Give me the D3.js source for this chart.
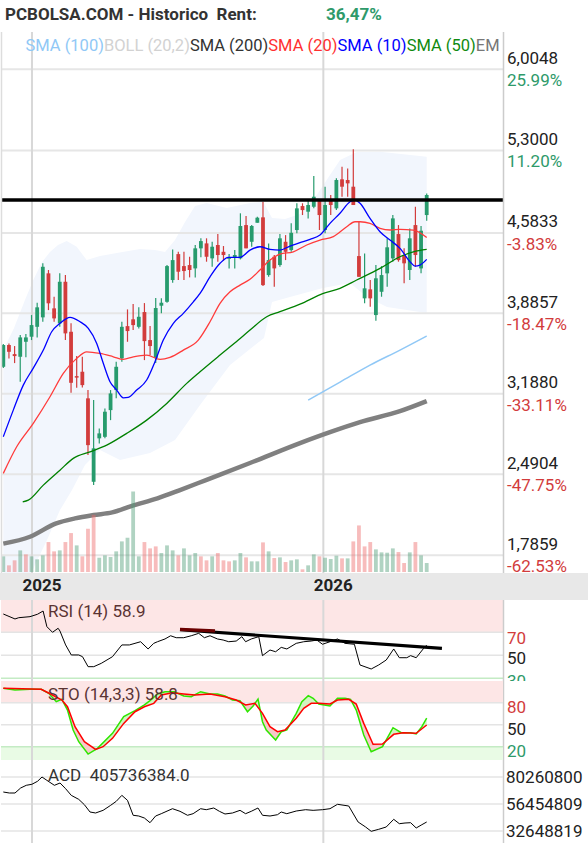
<!DOCTYPE html>
<html><head><meta charset="utf-8">
<script src="https://cdn.jsdelivr.net/npm/d3@7"></script>
<style>
html,body{margin:0;padding:0;background:#fff;}
svg{display:block;font-family:Roboto,"Noto Sans",sans-serif;}
</style></head><body>
<svg id="chart" width="588" height="843"></svg>
<script>
// ---------------- DATA ----------------
const titleText = "PCBOLSA.COM - Historico  Rent:";
const rentText = "36,47%";
const legendItems = [
  {label:"SMA (100)", color:"#90c8f6"},
  {label:"BOLL (20,2)", color:"#d2d2d2"},
  {label:"SMA (200)", color:"#333333"},
  {label:"SMA (20)", color:"#ff3030"},
  {label:"SMA (10)", color:"#0000ff"},
  {label:"SMA (50)", color:"#108a10"},
  {label:"EM", color:"#777777"}
];
// weekly candles (index 0..75)
const opens  = [3.422,3.611,3.532,3.509,3.639,3.683,3.769,3.851,4.233,3.929, 3.799,4.160,3.726,3.341,3.379,3.148,2.424,2.801,2.814,3.046, 3.220,3.495,3.775,3.834,3.769,3.897,3.654,3.498,3.952,3.986, 4.175,4.400,4.296,4.305,4.276,4.450,4.493,4.363,4.479,4.420, 4.363,4.372,4.363,4.652,4.507,4.672,4.719,4.218,4.377,4.305, 4.507,4.435,4.609,4.817,4.768,4.811,4.860,4.609,4.868,4.797, 5.049,5.043,4.985,4.383,4.016,4.094,3.871,4.073,4.233,4.363, 4.574,4.392,4.262,4.652,4.276,4.739];
const closes = [3.611,3.552,3.515,3.677,3.677,3.784,3.938,4.290,3.973,3.842, 4.160,3.712,3.283,3.328,3.263,2.742,2.714,2.844,3.032,3.191, 3.422,3.769,3.732,3.784,3.856,3.645,3.602,3.932,3.978,4.296, 4.348,4.247,4.253,4.262,4.450,4.513,4.377,4.464,4.392,4.392, 4.372,4.392,4.644,4.450,4.644,4.716,4.131,4.348,4.276,4.537, 4.420,4.585,4.797,4.782,4.826,4.898,4.739,4.826,4.826,5.043, 4.985,5.014,4.826,4.203,4.103,4.016,4.190,4.218,4.459,4.710, 4.348,4.320,4.537,4.392,4.603,4.913];
const highs  = [3.619,3.625,3.602,3.697,3.706,3.871,3.978,4.320,4.262,4.030, 4.233,4.218,3.799,3.515,3.509,3.220,3.133,2.887,3.061,3.220, 3.466,3.813,3.920,3.966,3.938,3.975,3.775,4.019,4.016,4.305, 4.441,4.420,4.420,4.377,4.479,4.537,4.537,4.507,4.574,4.470, 4.400,4.435,4.754,4.730,4.652,4.724,4.854,4.493,4.392,4.574, 4.565,4.667,4.841,4.841,4.868,5.078,4.868,4.985,4.913,5.058, 5.158,5.144,5.309,4.681,4.406,4.175,4.305,4.296,4.537,4.739, 4.652,4.450,4.623,4.811,4.644,4.927];
const lows   = [3.411,3.495,3.454,3.292,3.504,3.654,3.677,3.813,3.914,3.813, 3.769,3.654,3.196,3.240,3.243,2.656,2.395,2.757,2.801,2.959, 3.148,3.466,3.639,3.741,3.755,3.480,3.524,3.454,3.886,3.978, 4.151,4.175,4.175,4.198,4.198,4.372,4.334,4.290,4.334,4.342, 4.276,4.276,4.354,4.450,4.464,4.672,4.123,4.203,4.117,4.290, 4.348,4.420,4.580,4.739,4.710,4.797,4.609,4.580,4.739,4.782, 4.898,4.898,4.826,4.203,3.973,3.943,3.821,4.030,4.117,4.334, 4.334,4.146,4.175,4.290,4.233,4.689];
const volumes = [4.7,2.0,3.5,6.5,5.3,4.7,3.8,5.0,9.0,6.2, 6.5,9.0,11.7,8.0,4.7,13.0,17.2,4.3,5.0,4.5, 6.2,9.2,10.3,24.2,4.7,9.0,7.1,7.7,5.7,8.0, 6.5,5.0,7.1,5.0,5.7,4.7,3.5,4.7,5.7,3.5, 3.2,3.5,5.7,4.4,3.2,3.2,8.9,6.2,4.2,4.4, 3.0,3.5,3.8,0.8,2.0,5.3,4.7,4.3,3.9,4.9, 4.1,4.1,9.2,14.0,7.7,9.0,6.8,5.9,5.8,7.1, 6.0,2.7,5.9,9.0,5.0,2.7];
const volDir = "grrgrgggrrgrrgrrrggggggggrrrgggrgggrrgrrrggrggrgrgrggrggrgggrgrrrrggggrrgrgg";
// moving averages / bands: [week index, price]
const sma10 = [[0,2.815],[1.77,3.046],[3.54,3.263],[5.31,3.411],[7.09,3.567],[8.57,3.726],[10.04,3.799],[11.82,3.851],[13.59,3.813],[15.06,3.756],[16.55,3.625],[17.71,3.452],[18.9,3.292],[20.09,3.220],[21.26,3.153],[22.14,3.157],[23.63,3.220],[25.4,3.307],[26.87,3.466],[28.34,3.654],[30.12,3.799],[31.89,3.886],[33.66,3.986],[34.85,4.059],[36.62,4.203],[38.39,4.320],[39.86,4.372],[41.93,4.372],[43.7,4.435],[45.47,4.464],[47.24,4.441],[49.01,4.435],[50.78,4.470],[52.56,4.499],[54.33,4.528],[56.1,4.565],[57.87,4.667],[59.64,4.754],[61.42,4.854],[62.3,4.869],[63.19,4.841],[64.96,4.710],[66.73,4.594],[68.5,4.522],[70.27,4.450],[72.04,4.334],[72.93,4.296],[73.81,4.305],[75,4.354]];
const sma20 = [[0,2.497],[2.37,2.728],[5.31,2.931],[8.27,3.162],[10.63,3.365],[13,3.495],[14.77,3.552],[17.13,3.538],[19.49,3.509],[21.26,3.486],[23.03,3.509],[25.4,3.524],[27.76,3.486],[29.53,3.504],[31.89,3.567],[34.54,3.654],[36.62,3.813],[38.39,3.973],[40.16,4.073],[41.93,4.131],[43.7,4.181],[45.47,4.262],[47.24,4.348],[49.01,4.400],[51.37,4.420],[53.75,4.479],[56.1,4.522],[58.46,4.551],[60.83,4.637],[62.3,4.681],[63.19,4.681],[64.96,4.667],[66.73,4.624],[68.5,4.609],[70.27,4.615],[72.63,4.609],[75,4.545]];
const sma50 = [[3.44,2.250],[4.43,2.265],[7.09,2.395],[10.04,2.525],[12.4,2.627],[15.36,2.684],[18.32,2.742],[21.86,2.844],[25.4,2.959],[28.95,3.104],[32.49,3.278],[34.85,3.379],[38.39,3.524],[41.63,3.654],[43.7,3.741],[46.66,3.856],[49.01,3.900],[52.56,3.966],[56.69,4.059],[59.64,4.103],[62.6,4.175],[66.73,4.276],[70.27,4.377],[72.63,4.420],[75,4.441]];
const sma100 = [[54,3.133],[59.65,3.289],[64.96,3.437],[70.27,3.567],[75,3.689]];
const sma200 = [[0,1.887],[4.73,1.947],[9.37,2.063],[12.7,2.106],[16.0,2.135],[19.3,2.158],[22.66,2.213],[27.3,2.280],[31.3,2.352],[35.9,2.439],[43.7,2.587],[52.56,2.760],[57.87,2.855],[63.19,2.942],[70.27,3.037],[75,3.124]];
const bbUpper = [[0,3.567],[1.9,3.758],[3.84,4.001],[5.31,4.175],[6.86,4.331],[8.27,4.418],[9.69,4.479],[11.23,4.513],[13,4.464],[14.77,4.348],[17.13,4.383],[20.09,4.409],[24.22,4.444],[26.87,4.435],[28.65,4.418],[30.42,4.522],[32.19,4.678],[33.96,4.817],[36.03,4.843],[39.57,4.800],[43.7,4.843],[46.06,4.854],[47.6,4.713],[49.9,4.704],[52.56,4.748],[55.52,4.913],[57.87,5.086],[59.65,5.216],[62.6,5.286],[66.73,5.289],[75,5.245]];
const bbLower = [[0,1.05],[2.96,1.397],[5.6,1.701],[7.74,1.918],[10.04,2.178],[12.17,2.352],[14.47,2.569],[17.13,2.699],[20.67,2.612],[25.99,2.673],[30.42,2.786],[34.85,3.090],[40.16,3.437],[44.59,3.611],[46.18,3.671],[47.6,3.984],[50.78,4.027],[56.63,4.105],[61.42,4.149],[64.43,4.027],[67.97,3.940],[71.5,3.914],[75,3.888]];
const resistance = 4.869;
// right axis
const priceTicks = [6.0048,5.3000,4.5833,3.8857,3.1880,2.4904,1.7859];
const priceTickLabels = ["6,0048","5,3000","4,5833","3,8857","3,1880","2,4904","1,7859"];
const pctLabels = ["25.99%","11.20%","-3.83%","-18.47%","-33.11%","-47.75%","-62.53%"];
const years = [{label:"2025", idx:5.08},{label:"2026", idx:56.69}];
// RSI
const rsiLabel = "RSI (14) 58.9";
const rsi = [[0,85.9],[2.07,81.6],[2.74,82.7],[4.73,83.6],[6.06,85.7],[7.05,88.5],[7.72,74.9],[8.72,70],[9.71,73.5],[10.04,71.1],[11.04,59],[12.04,50.3],[13.36,50.3],[14.03,48.8],[15.02,40.1],[16.02,40.1],[17.35,43],[19.34,48.8],[21,59],[22.33,59],[23.33,60.4],[24.32,61.8],[25.65,55.5],[26.65,60.4],[27.31,61.8],[28.64,64.2],[29.64,67],[30.63,65.3],[31.96,65.3],[33.29,67],[34.62,69.1],[35.62,65.3],[36.62,67],[37.94,64.2],[38.94,63.3],[39.93,61.8],[41.26,62.4],[42.26,66.2],[42.92,61.8],[43.92,64.2],[45.25,66.2],[45.91,49.7],[47.24,54.6],[48.24,53.1],[49.23,56.9],[50.23,55.5],[51.89,60.4],[53.22,61.8],[54.55,62.4],[55.54,63.3],[56.54,59.6],[57.87,61.8],[59.2,64.2],[60.53,60.4],[62.19,59.6],[63.18,41.6],[65.17,38.1],[66.5,41.6],[67.83,45.9],[69.16,55.5],[70.15,47.9],[71.48,47.9],[72.15,49.7],[73.14,47.9],[74.47,56.1],[75,58.9]];
const rsiTrend = [[31.3,72.2],[77.7,56.1]];
const rsiTrendStart = [[31.3,72.6],[37.5,71.3]];
const rsiLevels = [70,50,30];
// Stochastic
const stoLabel = "STO (14,3,3) 58.8";
const stoK = [[0,99.6],[2.07,97.3],[4.73,98.2],[6.72,98.2],[8.05,92.8],[9.38,81.4],[10.38,84.6],[11.37,70],[12.37,42.8],[13.36,26.8],[15.02,10],[16.68,17.8],[19.34,38.2],[21.33,61],[23.33,69.1],[24.99,76.9],[25.99,82.7],[27.31,91.9],[28.64,95],[30.3,95],[31.96,89.1],[33.29,88.2],[34.95,95],[36.62,91.9],[37.94,91.9],[39.27,89.1],[40.6,83.7],[41.93,82.7],[43.26,67.7],[44.25,75.5],[45.12,85],[45.91,54.1],[46.58,42.8],[48.24,29.1],[49.23,40.4],[50.23,42.8],[51.89,65.5],[52.89,81.4],[54.02,89.6],[54.88,86],[55.88,78.2],[56.87,76.9],[57.87,75.5],[59.2,86],[60.53,86],[61.52,84.6],[62.52,70],[63.85,36],[65.17,13.2],[67.17,20],[69.03,45.9],[70.49,39.1],[72.15,39.1],[73.14,37.3],[74.14,47.3],[75,58.8]];
const stoD = [[0,99.6],[6.72,98.2],[8.72,90.5],[10.38,83.7],[11.37,74.5],[12.7,47.3],[14.36,26.8],[16.35,16.4],[17.68,20],[19.34,31.4],[21.33,51.8],[23.33,67.7],[24.99,74.5],[26.65,79.1],[27.98,90.5],[29.97,93.6],[31.96,91.9],[33.95,90.5],[36.62,91.9],[39.27,88.2],[41.26,83.7],[42.92,76.9],[44.58,79.1],[45.91,65.5],[47.24,47.3],[48.57,40.4],[49.9,42.8],[51.89,58.7],[53.22,72.4],[54.55,79.1],[55.88,79.1],[57.87,78.2],[59.2,83.7],[61.19,84.6],[62.52,78.2],[63.85,51.8],[65.5,23.2],[67.17,23.7],[69.16,36.9],[70.82,39.1],[73.14,38.2],[75,49.6]];
const stoLevels = [80,50,20];
// Accumulation/Distribution (millions)
const acdLabel = "ACD  405736384.0";
const acd = [[0,67.03],[1.07,66.15],[2.07,66.15],[3.07,70.56],[4.07,72.94],[5.06,73.82],[6.06,76.47],[6.86,80.26],[7.72,77.32],[9.05,72.94],[10.05,74.97],[11.04,69.95],[12.04,64.08],[13.36,60.55],[14.36,55.85],[15.36,49.4],[16.35,48.52],[17.68,50.87],[19.01,55.27],[20,58.79],[21,64.08],[22,59.67],[23,46.5],[23.99,45.87],[24.99,44.11],[25.99,39.97],[26.98,45.87],[27.98,47.9],[29.97,52.31],[31.3,50],[32.63,46.5],[33.62,47.9],[34.95,52.31],[35.95,51.43],[37.28,52.93],[38.28,50],[39.27,47.64],[40.6,48.52],[41.93,50.87],[42.92,47.9],[43.92,50],[45.11,52.93],[45.92,46.5],[47.25,45.87],[48.57,47.03],[49.23,49.4],[50.22,47.9],[51.89,50.28],[53.55,51.43],[54.88,50.87],[56.55,51.43],[57.87,52.31],[59.2,56.19],[61.19,54.69],[62.85,40.59],[64.18,36.18],[65.17,32.37],[66.5,34.15],[67.83,36.18],[69.16,42.96],[70.15,39.09],[71.16,39.7],[72.15,39.97],[73.14,35.3],[74.14,38.21],[75,40.59]];
const acdTicks = [80.2608,56.454809,32.648819];
const acdTickLabels = ["80260800","56454809","32648819"];

// ---------------- LAYOUT ----------------
const svg = d3.select("#chart");
const L = 1, R = 503;
const pTop = 32, pBot = 573;
const C_GREEN = "#279b6d", C_RED = "#d23c3c";
const FS = 17;

svg.append("rect").attr("width",588).attr("height",843).attr("fill","#fff");

const x = d3.scaleLinear().domain([0,75]).range([3.3,426.7]);
const y = d3.scaleLinear().domain([1.7859,6.0048]).range([555.3,69.2]);
const yVol = d3.scaleLinear().domain([0,d3.max(volumes)]).range([pBot-1,pBot-81.5]);
const yR = d3.scaleLinear().domain([30,70]).range([678.3,632.3]);
const yS = d3.scaleLinear().domain([20,80]).range([746.7,702.7]);
const yA = d3.scaleLinear().domain([32.648819,80.2608]).range([831,777]);

const defs = svg.append("defs");
function clip(id,x0,y0,w,h){defs.append("clipPath").attr("id",id).append("rect").attr("x",x0).attr("y",y0).attr("width",w).attr("height",h);}
clip("cp",L,pTop,R-L,pBot-pTop);
clip("cr",L,600,R-L,81);
clip("crl",0,600,588,81);
clip("cs",L,681,R-L,79);
clip("ca",L,760,R-L,83);

// ---------- price panel ----------
const gp = svg.append("g").attr("clip-path","url(#cp)");
const bandPts = bbUpper.concat(bbLower.slice().reverse());
gp.append("path").attr("d", d3.line().x(d=>x(d[0])).y(d=>y(d[1])).curve(d3.curveLinearClosed)(bandPts))
  .attr("fill","#f2f6fd");
gp.selectAll(".hg").data(priceTicks).enter().append("line")
  .attr("x1",L).attr("x2",R).attr("y1",d=>y(d)).attr("y2",d=>y(d))
  .attr("stroke","#e6e6e6").attr("stroke-width",2);
gp.selectAll(".yl").data(years).enter().append("line")
  .attr("x1",d=>x(d.idx)).attr("x2",d=>x(d.idx)).attr("y1",pTop).attr("y2",pBot)
  .attr("stroke","#d8d8d8").attr("stroke-width",2);

const ln = d3.line().x(d=>x(d[0])).y(d=>y(d[1])).curve(d3.curveMonotoneX);
gp.append("path").attr("d",ln(sma200)).attr("fill","none").attr("stroke","#808080").attr("stroke-width",4.5);
gp.append("path").attr("d",ln(sma100)).attr("fill","none").attr("stroke","#90c8f6").attr("stroke-width",1.5);

const idx = d3.range(opens.length);
const cg = gp.append("g");
cg.selectAll(".wk").data(idx).enter().append("line")
  .attr("x1",i=>x(i)).attr("x2",i=>x(i)).attr("y1",i=>y(highs[i])).attr("y2",i=>y(lows[i]))
  .attr("stroke",i=>closes[i]>=opens[i]?C_GREEN:C_RED).attr("stroke-width",1.2);
cg.selectAll(".bd").data(idx).enter().append("rect")
  .attr("x",i=>x(i)-1.9).attr("width",3.8)
  .attr("y",i=>y(Math.max(opens[i],closes[i])))
  .attr("height",i=>Math.max(1.5,Math.abs(y(opens[i])-y(closes[i]))))
  .attr("fill",i=>closes[i]>=opens[i]?C_GREEN:C_RED);

gp.append("path").attr("d",ln(sma50)).attr("fill","none").attr("stroke","#008000").attr("stroke-width",1.3);
gp.append("path").attr("d",ln(sma20)).attr("fill","none").attr("stroke","#ff3b3b").attr("stroke-width",1.3);
gp.append("path").attr("d",ln(sma10)).attr("fill","none").attr("stroke","#0000ff").attr("stroke-width",1.3);

gp.selectAll(".vb").data(idx).enter().append("rect")
  .attr("x",i=>x(i)-1.9).attr("width",3.8)
  .attr("y",i=>yVol(volumes[i])).attr("height",i=>yVol(0)-yVol(volumes[i]))
  .attr("fill",i=>volDir[i]==="g"?"#4f9e78":"#ee6a6a").attr("fill-opacity",0.45);

gp.append("line").attr("x1",L).attr("x2",R).attr("y1",y(resistance)).attr("y2",y(resistance))
  .attr("stroke","#000").attr("stroke-width",3.5);

svg.append("line").attr("x1",1.5).attr("x2",1.5).attr("y1",pTop).attr("y2",pBot).attr("stroke","#dddddd").attr("stroke-width",1.5);
svg.append("line").attr("x1",R+0.5).attr("x2",R+0.5).attr("y1",pTop).attr("y2",pBot).attr("stroke","#cccccc").attr("stroke-width",1.5);

const ax = svg.append("g").attr("font-size",FS);
ax.selectAll(".pl").data(priceTicks).enter().append("text")
  .attr("x",507).attr("y",d=>y(d)-5.5).attr("fill","#222").text((d,i)=>priceTickLabels[i]);
ax.selectAll(".pc").data(priceTicks).enter().append("text")
  .attr("x",507).attr("y",d=>y(d)+17).attr("fill",(d,i)=>pctLabels[i][0]==="-"?"#d23c3c":"#2e9a6a")
  .text((d,i)=>pctLabels[i]);

// title & legend
svg.append("text").attr("x",5).attr("y",20).attr("font-size",FS).attr("font-weight","bold")
  .attr("fill","#333").style("white-space","pre").text(titleText);
svg.append("text").attr("x",326).attr("y",20).attr("font-size",FS).attr("font-weight","bold")
  .attr("fill","#2e9a6a").text(rentText);
clip("cl",0,30,502,30);
const lg = svg.append("text").attr("x",25.5).attr("y",51).attr("font-size",16.5).attr("clip-path","url(#cl)");
legendItems.forEach(it=>lg.append("tspan").attr("fill",it.color).text(it.label));

// ---------- x-axis band ----------
svg.append("rect").attr("x",0).attr("y",pBot).attr("width",588).attr("height",600-pBot).attr("fill","#e8e8e8");
svg.selectAll(".yt").data(years).enter().append("text")
  .attr("x",d=>x(d.idx)-9.5).attr("y",591).attr("font-size",FS).attr("font-weight","bold").attr("fill","#222")
  .text(d=>d.label);

function vlines(g, y0, y1){
  g.selectAll(null).data(years).enter().append("line")
   .attr("x1",d=>x(d.idx)).attr("x2",d=>x(d.idx)).attr("y1",y0).attr("y2",y1)
   .attr("stroke","#d8d8d8").attr("stroke-width",2);
}
const lin = d3.line().x(d=>x(d[0]));

// ---------- RSI ----------
const gr = svg.append("g").attr("clip-path","url(#cr)");
gr.append("rect").attr("x",L).attr("y",600).attr("width",R-L).attr("height",yR(70)-600).attr("fill","#fde6e6");
gr.selectAll(null).data(rsiLevels).enter().append("line")
  .attr("x1",L).attr("x2",R).attr("y1",d=>yR(d)).attr("y2",d=>yR(d))
  .attr("stroke",d=>d===30?"#c4ebc4":"#e4e4e4").attr("stroke-width",1.5);
vlines(gr,600,681);
gr.append("path").attr("d",lin.y(d=>yR(d[1]))(rsi)).attr("fill","none").attr("stroke","#000").attr("stroke-width",1);
gr.append("path").attr("d",d3.line().x(d=>x(d[0])).y(d=>yR(d[1]))(rsiTrend)).attr("stroke","#000").attr("stroke-width",3.2);
gr.append("path").attr("d",d3.line().x(d=>x(d[0])).y(d=>yR(d[1]))(rsiTrendStart)).attr("stroke","#6b0000").attr("stroke-width",3.2);
gr.append("text").attr("x",48).attr("y",617).attr("font-size",FS).attr("fill","#5a3333").text(rsiLabel);
const grl = svg.append("g").attr("clip-path","url(#crl)").attr("font-size",FS);
grl.selectAll(null).data(rsiLevels).enter().append("text").attr("x",507)
  .attr("y",d=>yR(d)+ (d===70?11.5:9))
  .attr("fill",d=>d===70?"#d23c3c":(d===30?"#2e9a6a":"#222")).text(d=>d);
svg.append("line").attr("x1",R+0.5).attr("x2",R+0.5).attr("y1",600).attr("y2",843).attr("stroke","#cccccc").attr("stroke-width",1.5);

// ---------- STO ----------
const gs = svg.append("g").attr("clip-path","url(#cs)");
gs.append("rect").attr("x",L).attr("y",681).attr("width",R-L).attr("height",yS(80)-681).attr("fill","#fde6e6");
gs.append("rect").attr("x",L).attr("y",yS(20)).attr("width",R-L).attr("height",760-yS(20)).attr("fill","#e9fbe5");
gs.selectAll(null).data(stoLevels).enter().append("line")
  .attr("x1",L).attr("x2",R).attr("y1",d=>yS(d)).attr("y2",d=>yS(d))
  .attr("stroke",d=>d===20?"#c4ebc4":"#e4e4e4").attr("stroke-width",1.5);
vlines(gs,681,760);
const kS = d3.scaleLinear().domain(stoK.map(d=>d[0])).range(stoK.map(d=>d[1])).clamp(true);
const dS = d3.scaleLinear().domain(stoD.map(d=>d[0])).range(stoD.map(d=>d[1])).clamp(true);
const grid = d3.range(0,75.001,0.25);
let runs=[], cur=null;
grid.forEach(t=>{
  const s = kS(t)>=dS(t) ? 1 : -1;
  if(!cur || cur.s!==s){ const prev = cur ? cur.pts[cur.pts.length-1] : null; cur={s,pts:prev!==null?[prev]:[]}; runs.push(cur);}
  cur.pts.push(t);
});
runs.forEach(r=>{
  const poly = r.pts.map(t=>[x(t),yS(kS(t))]).concat(r.pts.slice().reverse().map(t=>[x(t),yS(dS(t))]));
  gs.append("path").attr("d","M"+poly.join("L")+"Z").attr("fill",r.s>0?"#d2f3c2":"#f6c9c9");
});
gs.append("path").attr("d",lin.y(d=>yS(d[1]))(stoK)).attr("fill","none").attr("stroke","#2ee600").attr("stroke-width",1.5);
gs.append("path").attr("d",lin.y(d=>yS(d[1]))(stoD)).attr("fill","none").attr("stroke","#ff0000").attr("stroke-width",1.5);
gs.append("text").attr("x",48).attr("y",700).attr("font-size",FS).attr("fill","#5a3333").text(stoLabel);
svg.selectAll(".sl").data(stoLevels).enter().append("text").attr("x",507).attr("font-size",FS)
  .attr("y",d=>yS(d)+10.3)
  .attr("fill",d=>d===80?"#d23c3c":(d===20?"#2e9a6a":"#222")).text(d=>d);

// ---------- ACD ----------
const ga = svg.append("g").attr("clip-path","url(#ca)");
ga.selectAll(null).data(acdTicks).enter().append("line")
  .attr("x1",L).attr("x2",R).attr("y1",d=>yA(d)).attr("y2",d=>yA(d))
  .attr("stroke","#e4e4e4").attr("stroke-width",1.5);
vlines(ga,760,843);
ga.append("path").attr("d",lin.y(d=>yA(d[1]))(acd)).attr("fill","none").attr("stroke","#000").attr("stroke-width",1);
ga.append("text").attr("x",48).attr("y",781).attr("font-size",FS).attr("fill","#333").style("white-space","pre").text(acdLabel);
svg.selectAll(".al").data(acdTicks).enter().append("text").attr("x",506).attr("font-size",FS)
  .attr("y",d=>yA(d)+6).attr("fill","#222").text((d,i)=>acdTickLabels[i]);
</script></body></html>
